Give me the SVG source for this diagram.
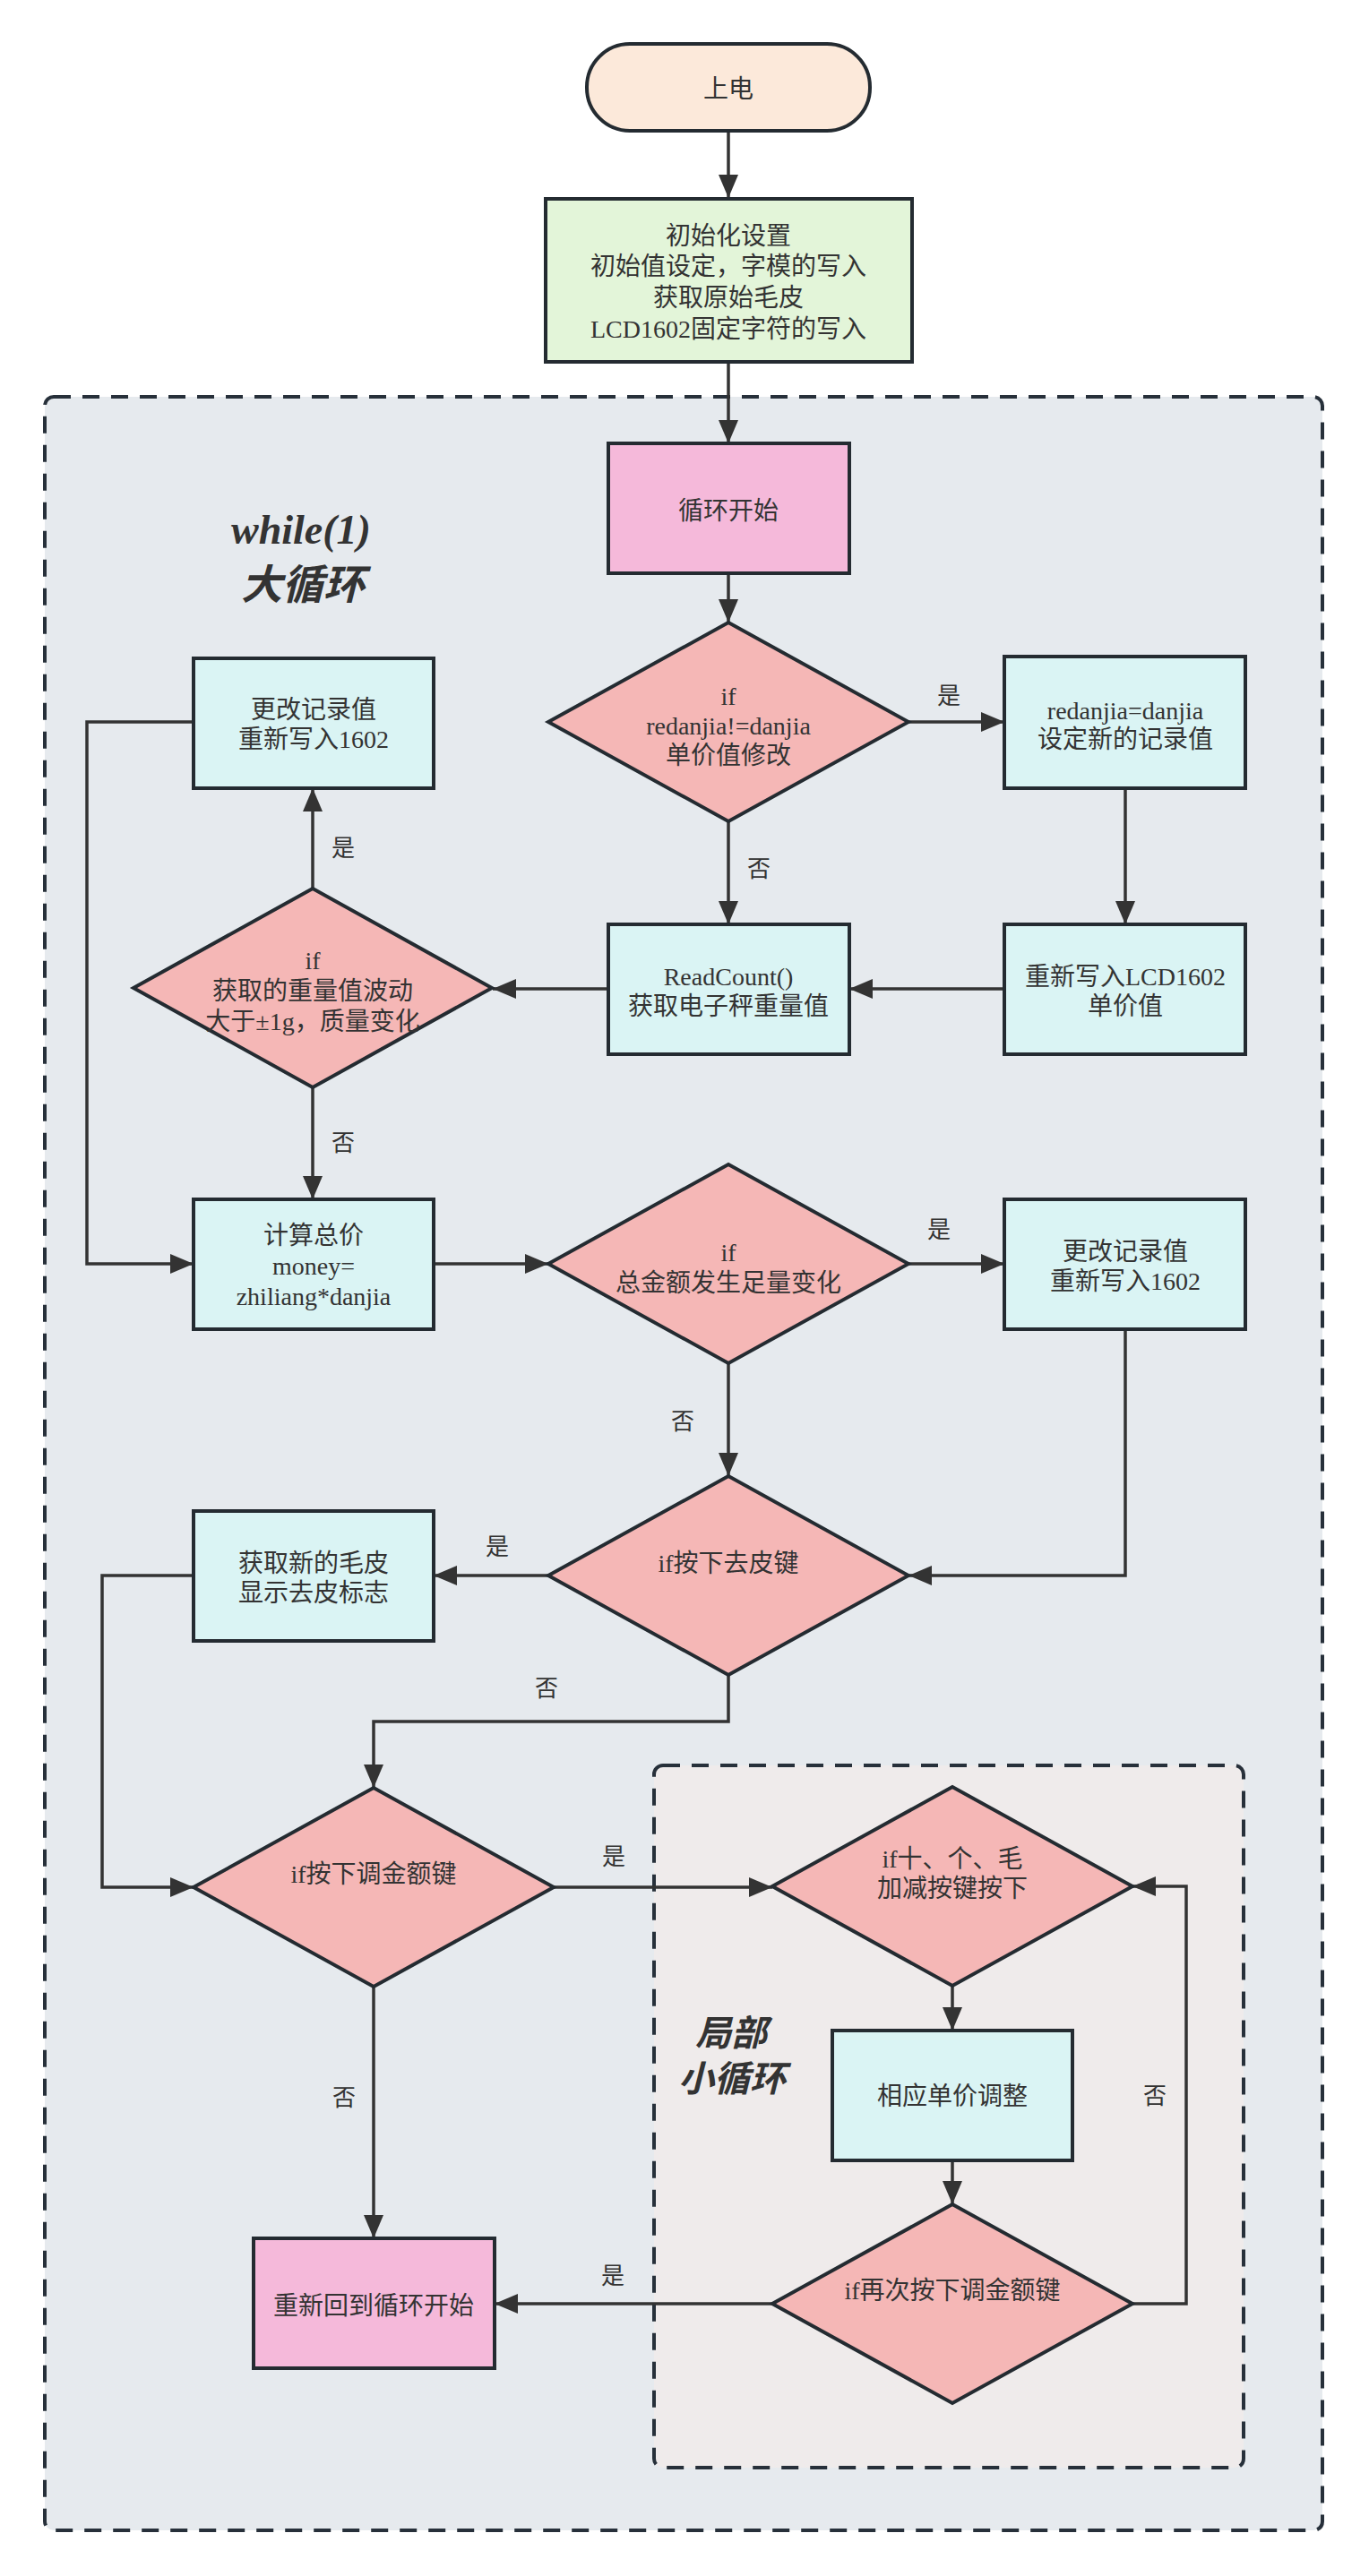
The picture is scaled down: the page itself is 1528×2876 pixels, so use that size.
<svg xmlns="http://www.w3.org/2000/svg" width="1528" height="2876" viewBox="0 0 1528 2876">
<defs>
<style>
text{font-family:"Liberation Serif","Noto Sans CJK SC",serif;font-size:28px;fill:#333333;text-anchor:middle}
.lbl{font-size:26px}
.title{font-weight:bold;font-style:italic;font-size:46px}
.title2{font-weight:bold;font-style:italic;font-size:40px}
.box{stroke:#242b31;stroke-width:4}
.cyan{fill:#daf4f4}
.pink{fill:#f5b9da}
.dia{fill:#f5b7b6}
.edge{fill:none;stroke:#333333;stroke-width:3.5;marker-end:url(#arr)}
.cont{stroke:#27303a;stroke-width:4;stroke-dasharray:19 13}
</style>
<marker id="arr" markerUnits="userSpaceOnUse" markerWidth="26" markerHeight="22" refX="26" refY="11" orient="auto">
<path d="M0,0 L26,11 L0,22 z" fill="#333333"/>
</marker>
</defs>
<rect width="1528" height="2876" fill="#ffffff"/>
<g id="container-main">
<rect class="cont" x="50" y="443" width="1426" height="2382" rx="10" fill="#e6eaee"/>
<text class="title" x="336" y="607">while(1)</text>
<text class="title" x="338" y="669">大循环</text>
</g>
<g id="container-inner">
<rect class="cont" x="730" y="1971" width="658" height="784" rx="10" fill="#efebeb"/>
<text class="title2" x="816" y="2284">局部</text>
<text class="title2" x="817" y="2335">小循环</text>
</g>
<g id="connectors">
<path class="edge" d="M813,146 L813,221"/>
<path class="edge" d="M813,404 L813,495"/>
<path class="edge" d="M813,640 L813,695"/>
<path class="edge" d="M1014,806 L1121,806"/>
<path class="edge" d="M813,917 L813,1032"/>
<path class="edge" d="M1256,880 L1256,1032"/>
<path class="edge" d="M1121,1104 L948,1104"/>
<path class="edge" d="M679,1104 L550,1104"/>
<path class="edge" d="M349,992 L349,880"/>
<path class="edge" d="M349,1214 L349,1339"/>
<path class="edge" d="M216,806 L97,806 L97,1411 L216,1411"/>
<path class="edge" d="M484,1411 L612,1411"/>
<path class="edge" d="M1014,1411 L1121,1411"/>
<path class="edge" d="M813,1522 L813,1648"/>
<path class="edge" d="M1256,1484 L1256,1759 L1014,1759"/>
<path class="edge" d="M612,1759 L484,1759"/>
<path class="edge" d="M216,1759 L114,1759 L114,2107 L216,2107"/>
<path class="edge" d="M813,1870 L813,1922 L417,1922 L417,1996"/>
<path class="edge" d="M618,2107 L862,2107"/>
<path class="edge" d="M417,2218 L417,2499"/>
<path class="edge" d="M1063,2217 L1063,2267"/>
<path class="edge" d="M1063,2412 L1063,2461"/>
<path class="edge" d="M862,2572 L552,2572"/>
<path class="edge" d="M1264,2572 L1324,2572 L1324,2106 L1264,2106"/>
<text class="lbl" x="1059" y="786">是</text>
<text class="lbl" x="847" y="979">否</text>
<text class="lbl" x="383" y="956">是</text>
<text class="lbl" x="383" y="1285">否</text>
<text class="lbl" x="1048" y="1382">是</text>
<text class="lbl" x="762" y="1596">否</text>
<text class="lbl" x="555" y="1736">是</text>
<text class="lbl" x="610" y="1894">否</text>
<text class="lbl" x="685" y="2082">是</text>
<text class="lbl" x="384" y="2351">否</text>
<text class="lbl" x="684" y="2550">是</text>
<text class="lbl" x="1289" y="2349">否</text>
</g>
<g id="n-power">
<rect class="box" x="655" y="49" width="316" height="97" rx="48" fill="#fce9da"/>
<text x="813" y="109">上电</text>
</g>
<g id="n-init">
<rect class="box" x="609" y="222" width="409" height="182" fill="#e3f5d9"/>
<text x="813" y="273">初始化设置</text>
<text x="813" y="307">初始值设定，字模的写入</text>
<text x="813" y="342">获取原始毛皮</text>
<text x="813" y="377">LCD1602固定字符的写入</text>
</g>
<g id="n-loopstart">
<rect class="box pink" x="679" y="495" width="269" height="145"/>
<text x="813" y="580">循环开始</text>
</g>
<g id="n-d1">
<polygon class="box dia" points="612,806 813,695 1014,806 813,917"/>
<text x="813" y="787">if</text>
<text x="813" y="820">redanjia!=danjia</text>
<text x="813" y="853">单价值修改</text>
</g>
<g id="n-setrec">
<rect class="box cyan" x="1121" y="733" width="269" height="147"/>
<text x="1256" y="803">redanjia=danjia</text>
<text x="1256" y="835">设定新的记录值</text>
</g>
<g id="n-readcount">
<rect class="box cyan" x="679" y="1032" width="269" height="145"/>
<text x="813" y="1100">ReadCount()</text>
<text x="813" y="1133">获取电子秤重量值</text>
</g>
<g id="n-lcd">
<rect class="box cyan" x="1121" y="1032" width="269" height="145"/>
<text x="1256" y="1100">重新写入LCD1602</text>
<text x="1256" y="1133">单价值</text>
</g>
<g id="n-d2">
<polygon class="box dia" points="149,1103 349,992 549,1103 349,1214"/>
<text x="349" y="1082">if</text>
<text x="349" y="1116">获取的重量值波动</text>
<text x="349" y="1150">大于±1g，质量变化</text>
</g>
<g id="n-rec1">
<rect class="box cyan" x="216" y="735" width="268" height="145"/>
<text x="350" y="802">更改记录值</text>
<text x="350" y="835">重新写入1602</text>
</g>
<g id="n-total">
<rect class="box cyan" x="216" y="1339" width="268" height="145"/>
<text x="350" y="1389">计算总价</text>
<text x="350" y="1423">money=</text>
<text x="350" y="1457">zhiliang*danjia</text>
</g>
<g id="n-d3">
<polygon class="box dia" points="612,1411 813,1300 1014,1411 813,1522"/>
<text x="813" y="1408">if</text>
<text x="813" y="1442">总金额发生足量变化</text>
</g>
<g id="n-rec2">
<rect class="box cyan" x="1121" y="1339" width="269" height="145"/>
<text x="1256" y="1407">更改记录值</text>
<text x="1256" y="1440">重新写入1602</text>
</g>
<g id="n-d4">
<polygon class="box dia" points="612,1759 813,1648 1014,1759 813,1870"/>
<text x="813" y="1755">if按下去皮键</text>
</g>
<g id="n-tare">
<rect class="box cyan" x="216" y="1687" width="268" height="145"/>
<text x="350" y="1755">获取新的毛皮</text>
<text x="350" y="1788">显示去皮标志</text>
</g>
<g id="n-d5">
<polygon class="box dia" points="216,2107 417,1996 618,2107 417,2218"/>
<text x="417" y="2102">if按下调金额键</text>
</g>
<g id="n-d6">
<polygon class="box dia" points="862,2106 1063,1995 1264,2106 1063,2217"/>
<text x="1063" y="2085">if十、个、毛</text>
<text x="1063" y="2118">加减按键按下</text>
</g>
<g id="n-adjust">
<rect class="box cyan" x="929" y="2267" width="268" height="145"/>
<text x="1063" y="2350">相应单价调整</text>
</g>
<g id="n-d7">
<polygon class="box dia" points="862,2572 1063,2461 1264,2572 1063,2683"/>
<text x="1063" y="2567">if再次按下调金额键</text>
</g>
<g id="n-restart">
<rect class="box pink" x="283" y="2499" width="269" height="145"/>
<text x="417" y="2584">重新回到循环开始</text>
</g>
</svg>
